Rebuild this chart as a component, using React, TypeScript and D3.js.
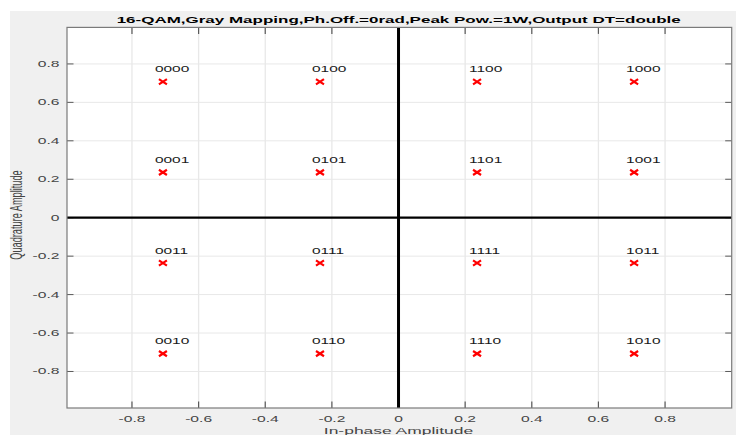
import React from "react";
import * as d3 from "d3";

const W = 736;
const H = 435;

const symbolLabels = [
  "0000", "0100", "1100", "1000",
  "0001", "0101", "1101", "1001",
  "0011", "0111", "1111", "1011",
  "0010", "0110", "1110", "1010",
];
const inPhase = [
  -0.7071, -0.2357, 0.2357, 0.7071,
  -0.7071, -0.2357, 0.2357, 0.7071,
  -0.7071, -0.2357, 0.2357, 0.7071,
  -0.7071, -0.2357, 0.2357, 0.7071,
];
const quadrature = [
  0.7071, 0.7071, 0.7071, 0.7071,
  0.2357, 0.2357, 0.2357, 0.2357,
  -0.2357, -0.2357, -0.2357, -0.2357,
  -0.7071, -0.7071, -0.7071, -0.7071,
];
const xTicks = [-0.8, -0.6, -0.4, -0.2, 0, 0.2, 0.4, 0.6, 0.8];
const yTicks = [-0.8, -0.6, -0.4, -0.2, 0, 0.2, 0.4, 0.6, 0.8];
const xTickLabels = ["-0.8", "-0.6", "-0.4", "-0.2", "0", "0.2", "0.4", "0.6", "0.8"];
const yTickLabels = ["-0.8", "-0.6", "-0.4", "-0.2", "0", "0.2", "0.4", "0.6", "0.8"];
const xDomain = [-0.995, 1.0];
const yDomain = [-0.99, 0.99];

const titleText = "16-QAM,Gray Mapping,Ph.Off.=0rad,Peak Pow.=1W,Output DT=double";
const xLabel = "In-phase Amplitude";
const yLabel = "Quadrature Amplitude";

const FONT = "'Liberation Sans', Arial, Helvetica, sans-serif";
const SX = 1.82;

export default function App() {
  const left = 67, right = 731.7, top = 27.4, bottom = 408;
  const x = d3.scaleLinear().domain(xDomain).range([left, right]);
  const y = d3.scaleLinear().domain(yDomain).range([bottom, top]);
  const tickLen = 6.5;
  const tickColor = "#5a5a5a";
  const labelColor = "#444444";

  return (
    <svg
      width={W}
      height={H}
      style={{ position: "absolute", left: 0, top: 0 }}
      fontFamily={FONT}
    >
      <rect x={0} y={0} width={W} height={H} fill="#ffffff" />
      <rect x={10} y={11} width={W - 10} height={H - 11} fill="#f0f0f0" />
      <rect x={left} y={top} width={right - left} height={bottom - top} fill="#ffffff" />

      {/* grid */}
      {xTicks.map((t, i) => (
        <line key={"gx" + i} x1={x(t)} x2={x(t)} y1={top} y2={bottom} stroke="#e8e8e8" strokeWidth={1.3} />
      ))}
      {yTicks.map((t, i) => (
        <line key={"gy" + i} x1={left} x2={right} y1={y(t)} y2={y(t)} stroke="#e8e8e8" strokeWidth={1} />
      ))}

      {/* ticks on all sides, inward */}
      {xTicks.map((t, i) => (
        <g key={"tx" + i}>
          <line x1={x(t)} x2={x(t)} y1={bottom} y2={bottom - tickLen} stroke={tickColor} strokeWidth={1.2} />
          <line x1={x(t)} x2={x(t)} y1={top} y2={top + tickLen} stroke={tickColor} strokeWidth={1.2} />
        </g>
      ))}
      {yTicks.map((t, i) => (
        <g key={"ty" + i}>
          <line x1={left} x2={left + tickLen} y1={y(t)} y2={y(t)} stroke={tickColor} strokeWidth={1} />
          <line x1={right} x2={right - tickLen} y1={y(t)} y2={y(t)} stroke={tickColor} strokeWidth={1} />
        </g>
      ))}

      {/* zero axes */}
      <line x1={left} x2={right} y1={y(0)} y2={y(0)} stroke="#000" strokeWidth={2.2} />
      <line x1={x(0)} x2={x(0)} y1={top} y2={bottom} stroke="#000" strokeWidth={3} />

      {/* box */}
      <rect x={left} y={top} width={right - left} height={bottom - top} fill="none" stroke="#7a7a7a" strokeWidth={1.2} />

      {/* points */}
      {symbolLabels.map((s, i) => {
        const px = x(inPhase[i]);
        const py = y(quadrature[i]);
        return (
          <g key={"p" + i}>
            <path
              d={`M${px - 4},${py - 2.6}L${px + 4},${py + 2.6}M${px - 4},${py + 2.6}L${px + 4},${py - 2.6}`}
              stroke="#ff0000"
              strokeWidth={2.2}
              fill="none"
            />
            <text
              transform={`translate(${px - 8},${py - 9.5}) scale(${SX},1)`}
              fontSize={8.5}
              fill="#1a1a1a"
            >
              {s}
            </text>
          </g>
        );
      })}

      {/* tick labels */}
      {xTicks.map((t, i) => (
        <text
          key={"xl" + i}
          transform={`translate(${x(t)},${421.7}) scale(${SX},1)`}
          textAnchor="middle"
          fontSize={8.6}
          fill={labelColor}
        >
          {xTickLabels[i]}
        </text>
      ))}
      {yTicks.map((t, i) => (
        <text
          key={"yl" + i}
          transform={`translate(${59.5},${y(t) + 3}) scale(${SX},1)`}
          textAnchor="end"
          fontSize={8.6}
          fill={labelColor}
        >
          {yTickLabels[i]}
        </text>
      ))}

      {/* title */}
      <text
        x={116.7}
        y={22.5}
        fontSize={9.6}
        fontWeight="bold"
        fill="#000"
        textLength={564}
        lengthAdjust="spacingAndGlyphs"
      >
        {titleText}
      </text>

      {/* axis labels */}
      <text
        transform={`translate(${x(0)},${433.5}) scale(${SX},1)`}
        textAnchor="middle"
        fontSize={9.6}
        fill={labelColor}
      >
        {xLabel}
      </text>
      <text
        transform={`translate(${22},${215}) scale(1.8,1) rotate(-90)`}
        textAnchor="middle"
        fontSize={9.2}
        fill={labelColor}
      >
        {yLabel}
      </text>
    </svg>
  );
}
